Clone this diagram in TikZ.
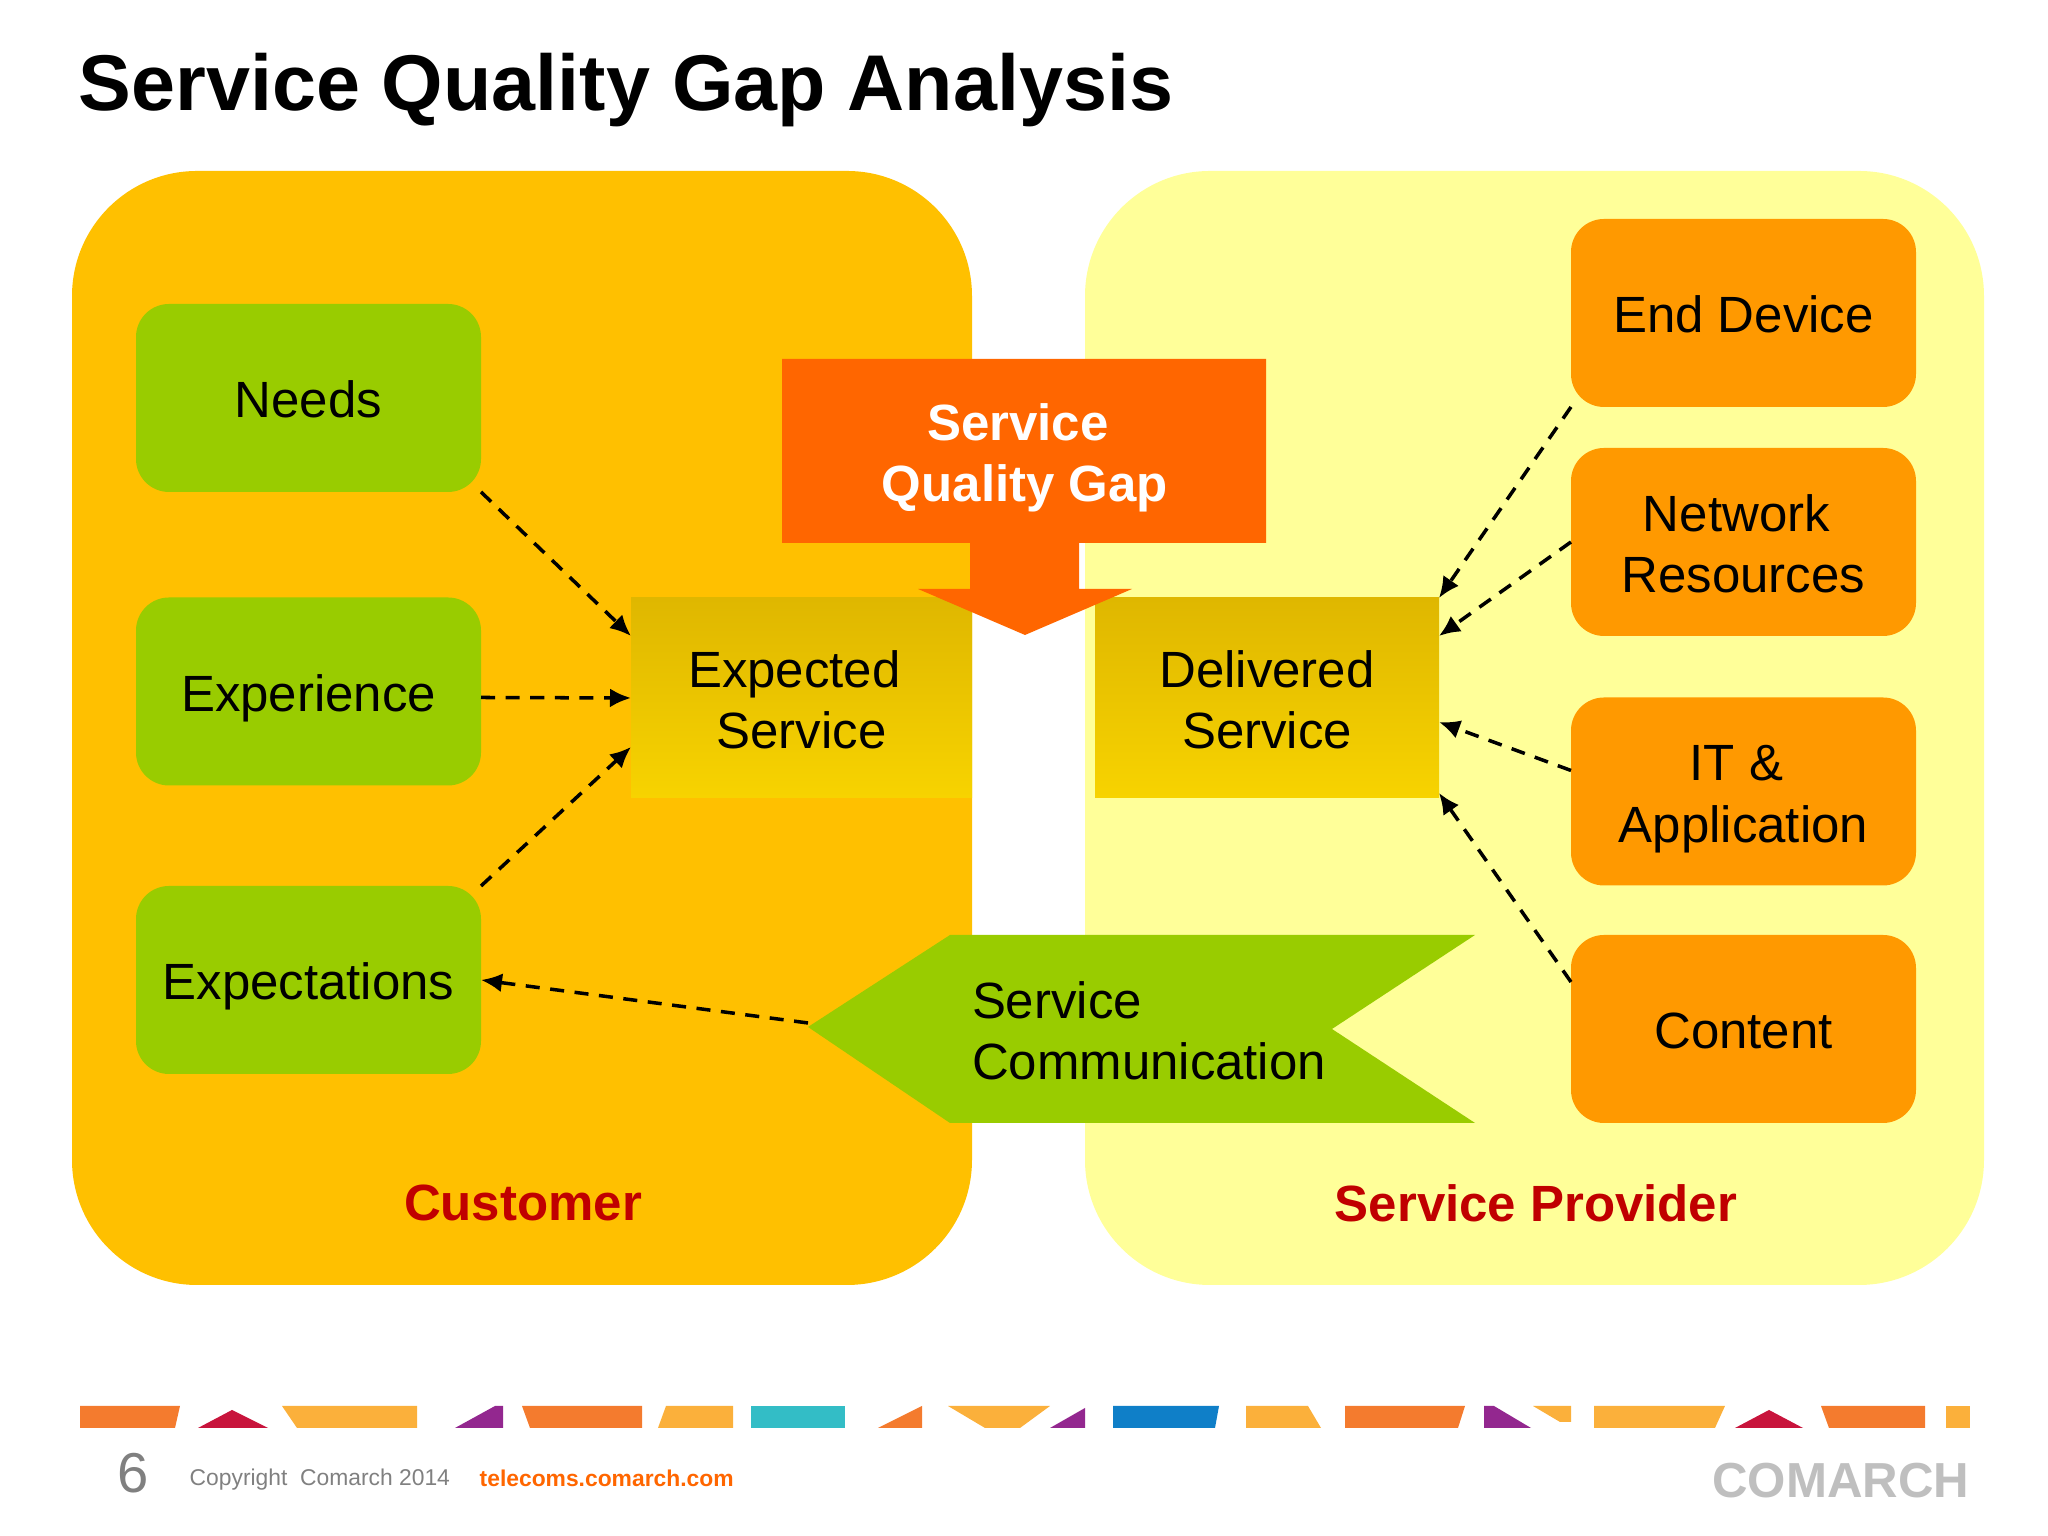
\documentclass[tikz,border=0pt]{standalone}
\usepackage{fontspec}
\usetikzlibrary{arrows.meta}
\setmainfont{Liberation Sans}
\definecolor{customerbg}{HTML}{FFC000}
\definecolor{providerbg}{HTML}{FFFF99}
\definecolor{leaf}{HTML}{99CC00}
\definecolor{tangerine}{HTML}{FF9900}
\definecolor{gapred}{HTML}{FF6600}
\definecolor{darkred}{HTML}{C00000}
\definecolor{stagetop}{HTML}{DFB700}
\definecolor{stagebottom}{HTML}{F7D300}
\definecolor{stripeorange}{HTML}{F47B2E}
\definecolor{stripecrimson}{HTML}{C8143C}
\definecolor{stripeamber}{HTML}{FBB03B}
\definecolor{stripepurple}{HTML}{93278F}
\definecolor{stripeteal}{HTML}{33BDC6}
\definecolor{stripeblue}{HTML}{0F7FC8}
\tikzstyle{caption}=[inner sep=0, outer sep=0, align=center,
                     font=\fontsize{14.5}{17.5}\selectfont]
\tikzstyle{oneline}=[text height=11.3pt, text depth=0pt]
\tikzstyle{twolines}=[text height=28.8pt, text depth=0pt]
\tikzstyle{needbox}=[caption, rectangle, fill=leaf, rounded corners=0.33cm,
                     minimum width=3.45cm, minimum height=1.88cm]
\tikzstyle{partbox}=[needbox, fill=tangerine]
\tikzstyle{stage}=[caption, twolines, rectangle, top color=stagetop, bottom color=stagebottom,
                   minimum height=2cm]
\tikzstyle{owner}=[inner sep=0, text=darkred,
                   font=\fontsize{14.5}{17.5}\selectfont\bfseries]
\tikzstyle{link}=[-{Latex[length=2.1mm, width=1.9mm]}, line width=1, dash pattern=on 4pt off 3pt]
\newcommand{\pad}{\hspace*{0.28em}}

\begin{document}
\begin{tikzpicture}
\useasboundingbox (0, 0) rectangle (20.48, 15.36);
%%%%%%%%%%%%%%%%%%%%%%%%%%%%%%
% nodes

\node (title) at (0.78, 14.25) [anchor=base west, inner sep=0, font=\fontsize{22.5}{27}\selectfont\bfseries] {Service Quality Gap Analysis};

% panels
\fill[customerbg, rounded corners=1.25cm] (0.72, 13.65) rectangle (9.72, 2.51);
\fill[providerbg, rounded corners=1.25cm] (10.85, 13.65) rectangle (19.84, 2.51);
\node (customer) at (5.23, 3.33) [owner] {Customer};
\node (provider) at (15.36, 3.33) [owner] {Service Provider};

% customer
\node (needs) at (3.085, 11.38) [needbox, oneline] {Needs};
\node (experience) at (3.085, 8.445) [needbox, oneline] {Experience};
\node (expectations) at (3.085, 5.56) [needbox, oneline] {Expectations};
\node (expected) at (8.015, 8.38) [stage, minimum width=3.41cm] {Expected\pad\\Service};

% provider
\node (device) at (17.435, 12.23) [partbox, oneline] {End Device};
\node (network) at (17.435, 9.94) [partbox, twolines] {Network\pad\\Resources};
\node (it) at (17.435, 7.445) [partbox, twolines] {IT \&\pad\\Application};
\node (content) at (17.435, 5.07) [partbox, oneline] {Content};
\node (delivered) at (12.67, 8.38) [stage, minimum width=3.44cm] {Delivered\\Service};

% gap arrow
\fill[gapred] (7.82, 11.77) -- (12.66, 11.77) -- (12.66, 9.93) -- (10.79, 9.93) -- (10.79, 9.47)
  -- (11.32, 9.47) -- (10.25, 9.01) -- (9.18, 9.47) -- (9.70, 9.47) -- (9.70, 9.93) -- (7.82, 9.93) -- cycle;
\node (gap) at (10.25, 10.85) [caption, twolines, text=white, font=\fontsize{14.5}{17.5}\selectfont\bfseries] {Service\pad\\Quality Gap};

% communication flag
\fill[leaf] (8.08, 5.09) -- (9.50, 6.01) -- (14.75, 6.01) -- (13.32, 5.07) -- (14.75, 4.13) -- (9.50, 4.13) -- cycle;
\coordinate (comm_tip) at (8.08, 5.13);
\node (comm) at (9.72, 5.07) [caption, twolines, anchor=west, align=left] {Service\\Communication};

%%%%%%%%%%%%%%%%%%%%%%%%%%%%%%
% links

% customer
\draw [link] (needs.south east) -- ([yshift=-0.38cm]expected.north west);
\draw [link] ([yshift=-0.06cm]experience.east) -- (expected.west);
\draw [link] (expectations.north east) -- ([yshift=0.51cm]expected.south west);
\draw [link] (comm_tip) -- (expectations.east);

% provider
\draw [link] (device.south west) -- (delivered.north east);
\draw [link] (network.west) -- ([yshift=-0.38cm]delivered.north east);
\draw [link] ([yshift=0.21cm]it.west) -- ([yshift=0.76cm]delivered.south east);
\draw [link] ([yshift=0.47cm]content.west) -- ([yshift=0.05cm]delivered.south east);

%%%%%%%%%%%%%%%%%%%%%%%%%%%%%%
% footer

\fill[stripeorange] (0.80, 1.30) -- (1.80, 1.30) -- (1.75, 1.08) -- (0.80, 1.08) -- cycle;
\fill[stripecrimson] (1.98, 1.08) -- (2.32, 1.26) -- (2.68, 1.08) -- cycle;
\fill[stripeamber] (2.82, 1.30) -- (4.17, 1.30) -- (4.17, 1.08) -- (2.97, 1.08) -- cycle;
\fill[stripepurple] (4.55, 1.08) -- (4.95, 1.30) -- (5.03, 1.30) -- (5.03, 1.08) -- cycle;
\fill[stripeorange] (5.22, 1.30) -- (6.42, 1.30) -- (6.42, 1.08) -- (5.30, 1.08) -- cycle;
\fill[stripeamber] (6.66, 1.30) -- (7.33, 1.30) -- (7.33, 1.08) -- (6.58, 1.08) -- cycle;
\fill[stripeteal] (7.51, 1.30) rectangle (8.45, 1.08);
\fill[stripeorange] (8.78, 1.08) -- (9.22, 1.30) -- (9.22, 1.08) -- cycle;
\fill[stripeamber] (9.48, 1.30) -- (10.50, 1.30) -- (10.20, 1.08) -- (9.85, 1.08) -- cycle;
\fill[stripepurple] (10.50, 1.08) -- (10.85, 1.28) -- (10.85, 1.08) -- cycle;
\fill[stripeblue] (11.13, 1.30) -- (12.19, 1.30) -- (12.15, 1.08) -- (11.13, 1.08) -- cycle;
\fill[stripeamber] (12.46, 1.30) -- (13.08, 1.30) -- (13.21, 1.08) -- (12.46, 1.08) -- cycle;
\fill[stripeorange] (13.45, 1.30) -- (14.65, 1.30) -- (14.58, 1.08) -- (13.45, 1.08) -- cycle;
\fill[stripepurple] (14.84, 1.30) -- (14.94, 1.30) -- (15.31, 1.08) -- (14.84, 1.08) -- cycle;
\fill[stripeamber] (15.33, 1.30) -- (15.71, 1.30) -- (15.71, 1.14) -- (15.60, 1.14) -- cycle;
\fill[stripeamber] (15.94, 1.30) -- (17.25, 1.30) -- (17.15, 1.08) -- (15.94, 1.08) -- cycle;
\fill[stripecrimson] (17.35, 1.08) -- (17.69, 1.26) -- (18.03, 1.08) -- cycle;
\fill[stripeorange] (18.21, 1.30) -- (19.25, 1.30) -- (19.25, 1.08) -- (18.29, 1.08) -- cycle;
\fill[stripeamber] (19.46, 1.30) rectangle (19.70, 1.08);

\node (page) at (1.33, 0.63) [inner sep=0, text=gray, font=\fontsize{16}{19}\selectfont] {6};
\node (copyright) at (1.89, 0.56) [anchor=west, inner sep=0, text=gray, font=\fontsize{6.5}{8}\selectfont] {Copyright\ \ Comarch 2014};
\node (site) at (4.79, 0.58) [anchor=west, inner sep=0, text=gapred, font=\fontsize{6.5}{8}\selectfont\bfseries] {telecoms.comarch.com};
\node (logo) at (19.70, 0.55) [anchor=east, inner sep=0, text=black!25, font=\fontsize{14}{16}\selectfont\bfseries] {COMARCH};

\end{tikzpicture}
\end{document}
